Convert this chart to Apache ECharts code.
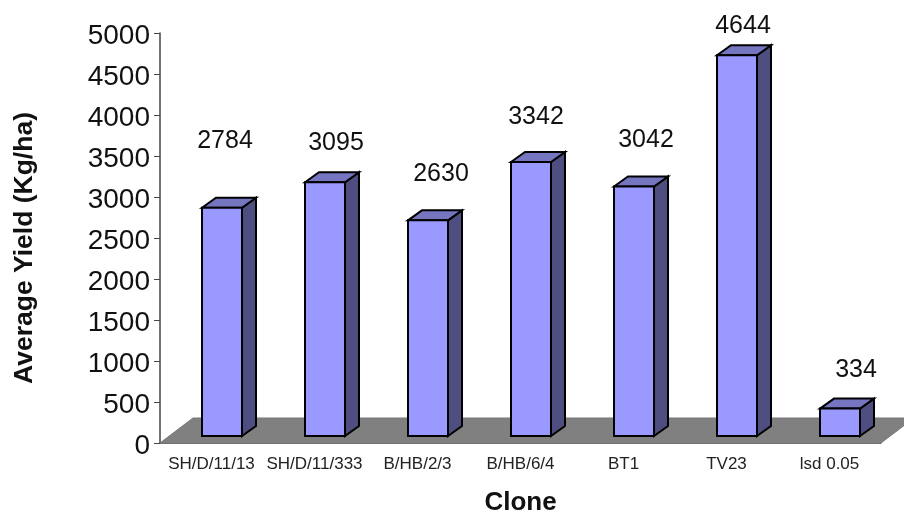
<!DOCTYPE html>
<html>
<head>
<meta charset="utf-8">
<style>html,body{margin:0;padding:0;background:#fff}#c{width:904px;height:512px}</style>
<script src="https://cdn.jsdelivr.net/npm/echarts@6/dist/echarts.min.js"></script>
</head>
<body>
<div id="c"></div>
<script>
const categories = ['SH/D/11/13','SH/D/11/333','B/HB/2/3','B/HB/6/4','BT1','TV23','lsd 0.05'];
const yieldValues = [2784,3095,2630,3342,3042,4644,334];
const yTicks = {min:0,max:5000,interval:500};

const font = '"Liberation Sans", Arial, sans-serif';
// chart-layout constants for the pseudo-3D look
const depth = {floorX:33, floorY:25, barX:14, barY:10, barBaseUp:7, barShift:10.5, barWidth:40};
const labelLift = [67,39,46,45,46,29,39];
const labelNudge = [3,11,13,5,12,6,16];

function renderBar(params, api){
  const i = api.value(0), v = api.value(1);
  const base = api.coord([i,0]), top = api.coord([i,v]);
  const cx = base[0] + depth.barShift;
  const l = cx - depth.barWidth/2, r = cx + depth.barWidth/2;
  const b = base[1] - depth.barBaseUp, t = top[1] - depth.barBaseUp;
  const dx = depth.barX, dy = depth.barY;
  const line = {stroke:'#000', lineWidth:2, lineJoin:'miter'};
  return {type:'group', children:[
    {type:'polygon', shape:{points:[[r,b],[r+dx,b-dy],[r+dx,t-dy],[r,t]]}, style:Object.assign({fill:'#4E4E80'},line)},
    {type:'polygon', shape:{points:[[l,t],[l+dx,t-dy],[r+dx,t-dy],[r,t]]}, style:Object.assign({fill:'#7575C0'},line)},
    {type:'rect', shape:{x:l,y:t,width:r-l,height:b-t}, style:Object.assign({fill:'#9999FF'},line)},
    {type:'text', style:{text:String(v), x:cx+labelNudge[i], y:t-labelLift[i], align:'center', verticalAlign:'middle',
      font:'25px '+font, fill:'#111'}}
  ]};
}
function renderFloor(params, api){
  const g = params.coordSys;
  const x0 = g.x, x1 = g.x+g.width, y = g.y+g.height;
  return {type:'polygon', shape:{points:[[x0,y],[x1,y],[x1+depth.floorX,y-depth.floorY],[x0+depth.floorX,y-depth.floorY]]},
    style:{fill:'#808080', stroke:'#777', lineWidth:1}};
}
const chart = echarts.init(document.getElementById('c'),null,{renderer:'canvas'});
chart.setOption({
  animation:false,
  backgroundColor:'#fff',
  grid:{left:160,right:23,top:33,bottom:69,outerBoundsMode:'none'},
  xAxis:{type:'category',data:categories,
    name:'Clone',nameLocation:'middle',nameGap:47,
    nameTextStyle:{fontFamily:font,fontSize:26,fontWeight:'bold',color:'#111'},
    axisLine:{lineStyle:{color:'#444',width:1.5}},
    axisTick:{length:6,lineStyle:{color:'#444'}},
    axisLabel:{fontFamily:font,fontSize:17,color:'#222',margin:13,interval:0},
    splitLine:{show:false}},
  yAxis:{type:'value',min:yTicks.min,max:yTicks.max,interval:yTicks.interval,
    name:'Average Yield (Kg/ha)',nameLocation:'middle',nameGap:122,
    nameTextStyle:{fontFamily:font,fontSize:26.5,fontWeight:'bold',color:'#111',padding:[0,20,0,0]},
    axisLine:{show:true,lineStyle:{color:'#444',width:1.5}},
    axisTick:{show:true,length:6,lineStyle:{color:'#444'}},
    axisLabel:{fontFamily:font,fontSize:28,color:'#111',margin:10,verticalAlign:'top',lineHeight:6,formatter:v=>String(v)},
    splitLine:{show:false}},
  series:[
    {type:'custom',clip:false,z:1,renderItem:renderFloor,data:[[0,0]],silent:true,encode:{x:0,y:1}},
    {type:'custom',clip:false,z:2,renderItem:renderBar,
     data:yieldValues.map((v,i)=>[i,v]),encode:{x:0,y:1}}
  ]
});
</script>
</body>
</html>
